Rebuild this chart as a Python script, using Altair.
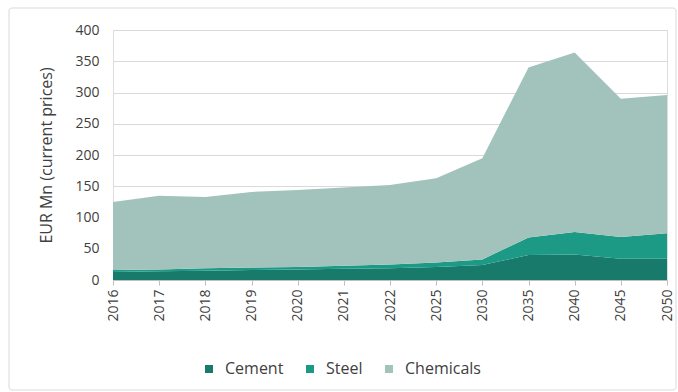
import altair as alt
import pandas as pd

years = ["2016", "2017", "2018", "2019", "2020", "2021", "2022",
         "2025", "2030", "2035", "2040", "2045", "2050"]
cement = [13, 14, 15, 16, 17, 18, 19, 21, 24, 40, 41, 34, 34]
steel = [3, 3, 4, 4, 4, 5, 6, 7, 9, 28, 36, 35, 41]
chemicals = [109, 118, 114, 121, 123, 125, 127, 135, 162, 272, 287, 221, 221]
series = ["Cement", "Steel", "Chemicals"]
colors = ["#177a6b", "#1c9a86", "#a1c3bb"]
y_ticks = [0, 50, 100, 150, 200, 250, 300, 350, 400]

rows = []
for i, yr in enumerate(years):
    for k, (name, vals) in enumerate(zip(series, [cement, steel, chemicals])):
        rows.append({"year": yr, "series": name, "value": vals[i], "order": k})
df = pd.DataFrame(rows)

FONT = "Open Sans"

area = alt.Chart(df).mark_area(opacity=1).encode(
    x=alt.X("year:O", sort=years, scale=alt.Scale(padding=0),
            axis=alt.Axis(title=None, labelAngle=-90, labelAlign="right",
                          labelBaseline="middle", labelPadding=4,
                          tickSize=5, tickColor="#bfbfbf", domainColor="#bfbfbf",
                          labelFontSize=14, labelColor="#404040", grid=False)),
    y=alt.Y("value:Q", stack="zero", scale=alt.Scale(domain=[0, 400], nice=False),
            axis=alt.Axis(values=y_ticks, title="EUR Mn (current prices)",
                          titleFontSize=16, titleFontWeight="normal", titleColor="#404040",
                          titlePadding=20, labelFontSize=14, labelColor="#404040",
                          labelPadding=14, ticks=False, domain=False,
                          gridColor="#d9d9d9")),
    color=alt.Color("series:N", sort=series,
                    scale=alt.Scale(domain=series, range=colors),
                    legend=alt.Legend(title=None, orient="none", direction="horizontal",
                                      legendX=88, legendY=331, symbolType="square",
                                      symbolSize=64, symbolStrokeWidth=0,
                                      labelFontSize=16, labelColor="#404040",
                                      columnPadding=18, labelOffset=8)),
    order=alt.Order("order:Q"),
)

border = alt.Chart(alt.Data(values=[{}])).mark_rect(
    fill=None, stroke="#d9d9d9", strokeWidth=1, clip=False, cornerRadius=3
).encode(
    x=alt.value(-104), x2=alt.value(563), y=alt.value(-22), y2=alt.value(360)
)

chart = alt.layer(border, area).properties(
    width=554, height=250,
    autosize=alt.AutoSizeParams(type="none"),
    padding={"left": 113, "top": 30, "right": 11, "bottom": 112},
).configure_view(stroke=None).configure(font=FONT)

chart.save("out.html", embed_options={"renderer": "svg", "actions": False})
